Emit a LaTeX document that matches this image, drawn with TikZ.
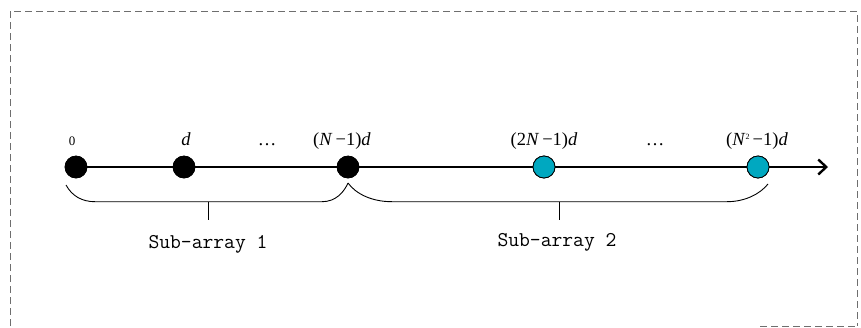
\documentclass[tikz,border=0pt]{standalone}
\usepackage{fontspec}
\setmainfont{Liberation Serif}
\usetikzlibrary{arrows.meta}
\definecolor{dotcyan}{RGB}{0,168,192}
\definecolor{bordergray}{RGB}{110,110,110}
\tikzset{
  blackdot/.style={circle, fill=black, draw=black, line width=0.6pt, minimum size=22pt, inner sep=0pt},
  cyandot/.style={circle, fill=dotcyan, draw=black, line width=0.8pt, minimum size=22pt, inner sep=0pt},
  poslabel/.style={font=\fontsize{18.5}{18.5}\selectfont, anchor=base, inner sep=0pt},
  bracestyle/.style={line width=0.9pt},
  sublabel/.style={font=\ttfamily\fontsize{21}{21}\selectfont, inner sep=0pt},
  axisline/.style={line width=2.6pt, -{Straight Barb[length=8pt, width=15pt, line width=2.4pt]}},
  borderline/.style={draw=bordergray, line width=0.9pt, dash pattern=on 7pt off 4pt}
}
\begin{document}
\begin{tikzpicture}[x=1pt, y=-1pt]
\useasboundingbox (0,0) rectangle (861,327);
% border
\draw[borderline] (10,326) -- (10,11) -- (857,11) -- (857,326);
\draw[borderline] (760,326) -- (857,326);
% dots
\coordinate (axisend) at (828,167);
\node[blackdot] (d0) at (76,167) {};
\node[blackdot] (d1) at (184,167) {};
\node[blackdot] (d2) at (348,167) {};
\node[cyandot] (d3) at (544,167) {};
\node[cyandot] (d4) at (758,167) {};
\draw[axisline] (d0.center) -- (axisend);
% redraw dots on top of axis
\node[blackdot] at (d0) {};
\node[blackdot] at (d1) {};
\node[blackdot] at (d2) {};
\node[cyandot] at (d3) {};
\node[cyandot] at (d4) {};
% labels
\node[poslabel, font=\fontsize{13}{13}\selectfont] (l0) at (72,145) {0};
\node[poslabel] (l1) at (186,145) {\textit{d}};
\node[poslabel] (e1) at (267,145) {…};
\node[poslabel] (l2) at (342,145) {(\textit{N}\,−1)\textit{d}};
\node[poslabel] (l3) at (544,145) {(2\textit{N}\,−1)\textit{d}};
\node[poslabel] (e2) at (655,145) {…};
\node[poslabel] (l4) at (757,145) {(\textit{N}\raisebox{6pt}{\fontsize{8}{8}\selectfont 2}\,−1)\textit{d}};
% braces
\coordinate (b1a) at (66,185);
\coordinate (b1b) at (95,201.7);
\coordinate (b1c) at (322,201.7);
\coordinate (peak) at (348,183);
\coordinate (b2b) at (392,201.7);
\coordinate (b2c) at (727,201.7);
\coordinate (b2d) at (768,184);
\draw[bracestyle] (b1a) .. controls (72,196) and (82,201.7) .. (b1b) -- (b1c)
  .. controls (336,201.7) and (344,192) .. (peak);
\draw[bracestyle] (peak) .. controls (356,194) and (372,201.7) .. (b2b) -- (b2c)
  .. controls (745,201.7) and (760,194) .. (b2d);
\coordinate (t1a) at (208,201.7);
\coordinate (t1b) at (208,220);
\coordinate (t2a) at (559,201.7);
\coordinate (t2b) at (559,220);
\draw[bracestyle] (t1a) -- (t1b);
\draw[bracestyle] (t2a) -- (t2b);
\node[sublabel] (s1) at (208,244) {Sub-array 1};
\node[sublabel] (s2) at (557,242) {Sub-array 2};
\end{tikzpicture}
\end{document}
